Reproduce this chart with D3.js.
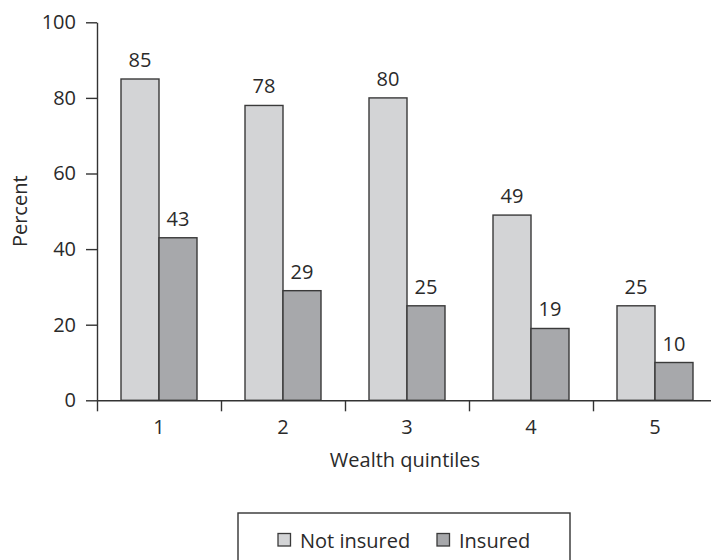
<!DOCTYPE html>
<html>
<head>
<meta charset="utf-8">
<script src="https://cdn.jsdelivr.net/npm/d3@7"></script>
<style>
  html, body { margin: 0; padding: 0; background: #fff; }
  svg { display: block; font-family: "Open Sans", sans-serif; }
  text { fill: #2a2a2a; }
</style>
</head>
<body>
<svg id="chart" width="711" height="560"></svg>
<script>
// Share of households by wealth quintile, not insured vs insured (percent)
const quintiles = ["1", "2", "3", "4", "5"];
const seriesNames = ["Not insured", "Insured"];
const notInsured = [85, 78, 80, 49, 25];
const insured = [43, 29, 25, 19, 10];
const yTicks = [0, 20, 40, 60, 80, 100];

const colors = { "Not insured": "#d3d4d6", "Insured": "#a7a8ab" };
const strokeColor = "#3a3a3a";
const axisColor = "#333";

const svg = d3.select("#chart");

const x0 = 97, bandStep = 124;
const x = d3.scaleBand()
  .domain(quintiles)
  .range([x0, x0 + bandStep * quintiles.length])
  .padding(0);

const xSub = d3.scaleBand()
  .domain(seriesNames)
  .range([24, bandStep - 24])
  .padding(0);

const y = d3.scaleLinear().domain([0, 100]).range([400.3, 22.3]);

const rows = quintiles.map((q, i) => ({
  q,
  values: [
    { name: "Not insured", value: notInsured[i] },
    { name: "Insured", value: insured[i] }
  ]
}));

// Bars
const groups = svg.append("g").selectAll("g")
  .data(rows).join("g")
  .attr("transform", d => `translate(${x(d.q)},0)`);

groups.selectAll("rect")
  .data(d => d.values).join("rect")
  .attr("x", d => xSub(d.name))
  .attr("y", d => y(d.value))
  .attr("width", xSub.bandwidth())
  .attr("height", d => y(0) - y(d.value))
  .attr("fill", d => colors[d.name])
  .attr("stroke", strokeColor)
  .attr("stroke-width", 1.4);

// Value labels
groups.selectAll("text.val")
  .data(d => d.values).join("text")
  .attr("class", "val")
  .attr("x", d => xSub(d.name) + xSub.bandwidth() / 2)
  .attr("y", d => y(d.value) - 12)
  .attr("text-anchor", "middle")
  .attr("font-size", 20)
  .text(d => d.value);

// Y axis
const yAxis = svg.append("g")
  .attr("transform", `translate(${x0},0)`)
  .call(d3.axisLeft(y).tickValues(yTicks).tickSize(11).tickPadding(10).tickSizeOuter(0));
yAxis.select(".domain").attr("stroke", axisColor).attr("stroke-width", 1.4);
yAxis.selectAll(".tick line").attr("stroke", axisColor).attr("stroke-width", 1.4);
yAxis.selectAll(".tick text")
  .attr("font-size", 20)
  .attr("font-family", "Open Sans, sans-serif")
  .attr("fill", "#2a2a2a");

// X axis: boundary ticks between quintiles, labels at band centres
const xBound = d3.scaleLinear().domain([0, quintiles.length]).range(x.range());
const xAxisTicks = svg.append("g")
  .attr("transform", `translate(0,${y(0)})`)
  .call(d3.axisBottom(xBound).tickValues(d3.range(0, quintiles.length + 1)).tickSize(11).tickFormat("").tickSizeOuter(0));
xAxisTicks.select(".domain").attr("stroke", axisColor).attr("stroke-width", 1.4);
xAxisTicks.selectAll(".tick line").attr("stroke", axisColor).attr("stroke-width", 1.4);

const xAxisLabels = svg.append("g")
  .attr("transform", `translate(0,${y(0)})`)
  .call(d3.axisBottom(x).tickSize(0).tickPadding(20));
xAxisLabels.select(".domain").remove();
xAxisLabels.selectAll(".tick text")
  .attr("font-size", 20)
  .attr("font-family", "Open Sans, sans-serif")
  .attr("fill", "#2a2a2a");

// Axis titles
svg.append("text")
  .attr("x", 405)
  .attr("y", 467)
  .attr("text-anchor", "middle")
  .attr("font-size", 20)
  .text("Wealth quintiles");

svg.append("text")
  .attr("transform", `translate(27,${(y(0) + y(100)) / 2}) rotate(-90)`)
  .attr("text-anchor", "middle")
  .attr("font-size", 20)
  .text("Percent");

// Legend
const legend = svg.append("g").attr("transform", "translate(238,513)");
legend.append("rect")
  .attr("x", 0).attr("y", 0)
  .attr("width", 332).attr("height", 70)
  .attr("fill", "none")
  .attr("stroke", axisColor)
  .attr("stroke-width", 1.4);

const legendX = d3.scaleOrdinal().domain(seriesNames).range([40, 199]);
const items = legend.selectAll("g.item")
  .data(seriesNames).join("g")
  .attr("class", "item")
  .attr("transform", d => `translate(${legendX(d)},20.5)`);
items.append("rect")
  .attr("width", 12.5).attr("height", 12.5)
  .attr("fill", d => colors[d])
  .attr("stroke", strokeColor)
  .attr("stroke-width", 1.3);
items.append("text")
  .attr("x", 22)
  .attr("y", 14.5)
  .attr("font-size", 20)
  .text(d => d);
</script>
</body>
</html>
